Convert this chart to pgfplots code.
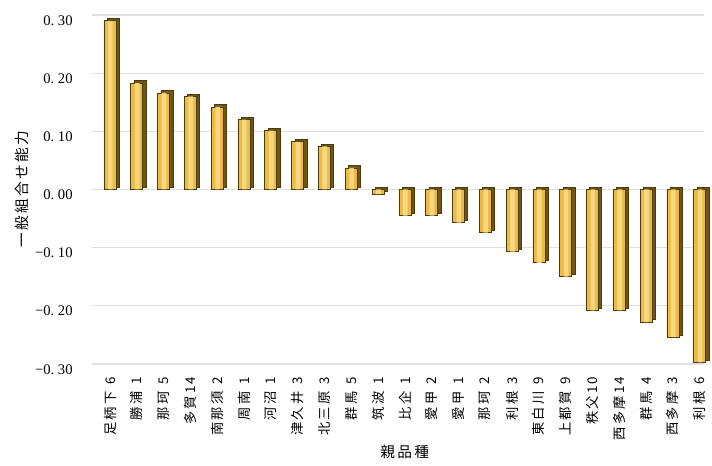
\documentclass[border=0pt]{standalone}
\usepackage{pgfplots}
\pgfplotsset{compat=1.18}
\usepackage{fontspec}
\setmainfont{Liberation Serif}
\newfontfamily\jp[LetterSpace=16]{Noto Sans CJK JP}
\definecolor{barfront}{HTML}{EDBB45}
\definecolor{barlight}{HTML}{F9DC86}
\definecolor{barside}{HTML}{6E5616}
\definecolor{baredge}{HTML}{4A3A0C}
\definecolor{gridc}{HTML}{E0E0E0}
\begin{document}
\begin{tikzpicture}
\useasboundingbox (-69pt,-76.5pt) rectangle (465pt,273pt);
\def\vals{(0,0.290) (1,0.183) (2,0.166) (3,0.160) (4,0.142) (5,0.120) (6,0.101) (7,0.082) (8,0.074) (9,0.037) (10,-0.008) (11,-0.045) (12,-0.045) (13,-0.057) (14,-0.074) (15,-0.107) (16,-0.126) (17,-0.150) (18,-0.208) (19,-0.208) (20,-0.228) (21,-0.254) (22,-0.297)}
\begin{axis}[
  at={(0,0)}, anchor=south west,
  scale only axis,
  width=459pt, height=261.75pt,
  xmin=-0.67, xmax=22.16,
  ymin=-0.30, ymax=0.30,
  ytick={-0.3,-0.2,-0.1,0,0.1,0.2,0.3},
  yticklabels={−0.\ 30,−0.\ 20,−0.\ 10,0.\ 00,0.\ 10,0.\ 20,0.\ 30},
  yticklabel style={font=\fontsize{11}{13}\selectfont, xshift=-11pt, yshift=-4pt},
  xtick={0,...,22},
  xticklabels={足柄下\hphantom{0}6,勝浦\hphantom{0}1,那珂\hphantom{0}5,多賀14,南那須\hphantom{0}2,周南\hphantom{0}1,河沼\hphantom{0}1,津久井\hphantom{0}3,北三原\hphantom{0}3,群馬\hphantom{0}5,筑波\hphantom{0}1,比企\hphantom{0}1,愛甲\hphantom{0}2,愛甲\hphantom{0}1,那珂\hphantom{0}2,利根\hphantom{0}3,東白川\hphantom{0}9,上都賀\hphantom{0}9,秩父10,西多摩14,群馬\hphantom{0}4,西多摩\hphantom{0}3,利根\hphantom{0}6},
  xticklabel style={font=\jp\fontsize{10}{12}\selectfont, rotate=90, anchor=east},
  xticklabel shift=6pt,
  ymajorgrids, grid style={gridc, line width=0.8pt},
  axis line style={draw=none},
  major tick length=0pt,
  clip=false,
]
\addplot[ybar, bar width=9pt, bar shift=0pt, fill=barside, draw=baredge, line width=0.4pt,
  transform canvas={shift={(2.4pt,1.8pt)}}] coordinates {\vals};
\addplot[ybar, bar width=9pt, bar shift=0pt, draw=baredge, line width=0.5pt, fill=barfront] coordinates {\vals};
\addplot[ybar, bar width=3.5pt, bar shift=0.3pt, draw=none, fill=barlight, fill opacity=0.9] coordinates {\vals};
\node[xshift=-52.5pt, rotate=90, font=\jp\fontsize{11}{13}\selectfont] at (rel axis cs:0,0.5) {一般組合せ能力};
\node[yshift=-66pt, font=\jp\fontsize{11}{13}\selectfont] at (rel axis cs:0.511,0) {親品種};
\end{axis}
\end{tikzpicture}
\end{document}
